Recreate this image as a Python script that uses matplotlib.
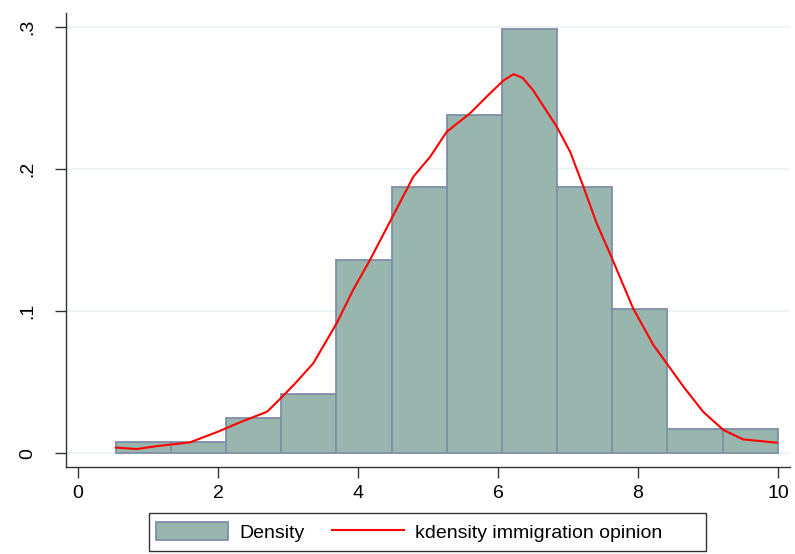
import numpy as np
import matplotlib
matplotlib.use("Agg")
import matplotlib.pyplot as plt
from matplotlib.patches import Patch, Rectangle
from matplotlib.lines import Line2D

plt.rcParams['font.family'] = ['Liberation Sans', 'DejaVu Sans']

# Histogram (density) data
bin_edges = [0.54, 1.33, 2.12, 2.90, 3.69, 4.48, 5.27, 6.06, 6.84, 7.63, 8.42, 9.21, 10.0]
bin_heights = [0.0082, 0.0082, 0.025, 0.042, 0.136, 0.187, 0.238, 0.298, 0.187, 0.1015, 0.0169, 0.0169]

# Kernel density curve
kd_x = [0.54, 0.84, 1.12, 1.6, 2.0, 2.35, 2.70, 2.886, 3.1, 3.36, 3.695, 3.93, 4.17,
        4.48, 4.79, 5.03, 5.267, 5.6, 5.886, 6.076, 6.22, 6.35, 6.50, 6.84, 7.03,
        7.22, 7.41, 7.62, 7.93, 8.22, 8.41, 8.65, 8.93, 9.22, 9.50, 9.98]
kd_y = [0.0040, 0.0030, 0.0050, 0.0077, 0.0152, 0.0225, 0.0292, 0.0382, 0.049, 0.0632,
        0.0914, 0.1148, 0.1358, 0.165, 0.1944, 0.2084, 0.226, 0.239, 0.253, 0.262,
        0.2665, 0.2640, 0.2553, 0.2295, 0.212, 0.1874, 0.1616, 0.138, 0.1019, 0.0761,
        0.0632, 0.0468, 0.0292, 0.0164, 0.0098, 0.0075]

x_ticks = [0, 2, 4, 6, 8, 10]
x_labels = ['0', '2', '4', '6', '8', '10']
y_ticks = [0, 0.1, 0.2, 0.3]
y_labels = ['0', '.1', '.2', '.3']

bar_fill = '#98B6AE'
bar_edge = '#7F8FA8'
grid_col = '#EAF2F3'
FS = 14
W, H = 795, 554

fig = plt.figure(figsize=(7.95, 5.54), dpi=100)
ax = fig.add_axes([0.0826, 0.1565, 0.9111, 0.82])

edges = np.array(bin_edges)
ax.bar(edges[:-1], bin_heights, width=np.diff(edges), align='edge',
       color=bar_fill, edgecolor=bar_edge, linewidth=1.3, zorder=2)
ax.plot(kd_x, kd_y, color='red', linewidth=1.5, zorder=3)

ax.set_xlim(-0.176, 10.171)
ax.set_ylim(-0.00984, 0.3095)
ax.set_xticks(x_ticks)
ax.set_xticklabels(x_labels)
ax.set_yticks(y_ticks)
ax.set_yticklabels(y_labels, rotation=90, va='center')
ax.tick_params(axis='both', length=8, width=1, color='#333333', labelsize=FS)
ax.tick_params(axis='x', pad=5)
ax.tick_params(axis='y', pad=13)
for yv in y_ticks:
    ax.axhline(yv, color=grid_col, linewidth=1.2, zorder=0)

for s in ['top', 'right']:
    ax.spines[s].set_visible(False)
for s in ['left', 'bottom']:
    ax.spines[s].set_color('#333333')
    ax.spines[s].set_linewidth(1.0)

handles = [Patch(facecolor=bar_fill, edgecolor=bar_edge, linewidth=1.3),
           Line2D([0], [0], color='red', linewidth=1.5)]
leg = fig.legend(handles, ['Density', 'kdensity immigration opinion'],
                 loc='center left', bbox_to_anchor=(156 / W, (H - 531.7) / H), ncol=2,
                 fontsize=FS, frameon=False,
                 handlelength=3.7, handleheight=1.05, handletextpad=0.57,
                 columnspacing=1.44, borderpad=0.0, borderaxespad=0.0)
fig.patches.append(Rectangle((149 / W, (H - 550.7) / H), (706 - 149) / W, 38 / H,
                             transform=fig.transFigure, fill=False,
                             edgecolor='#333333', linewidth=1.0))

fig.savefig('out.png', dpi=100)
